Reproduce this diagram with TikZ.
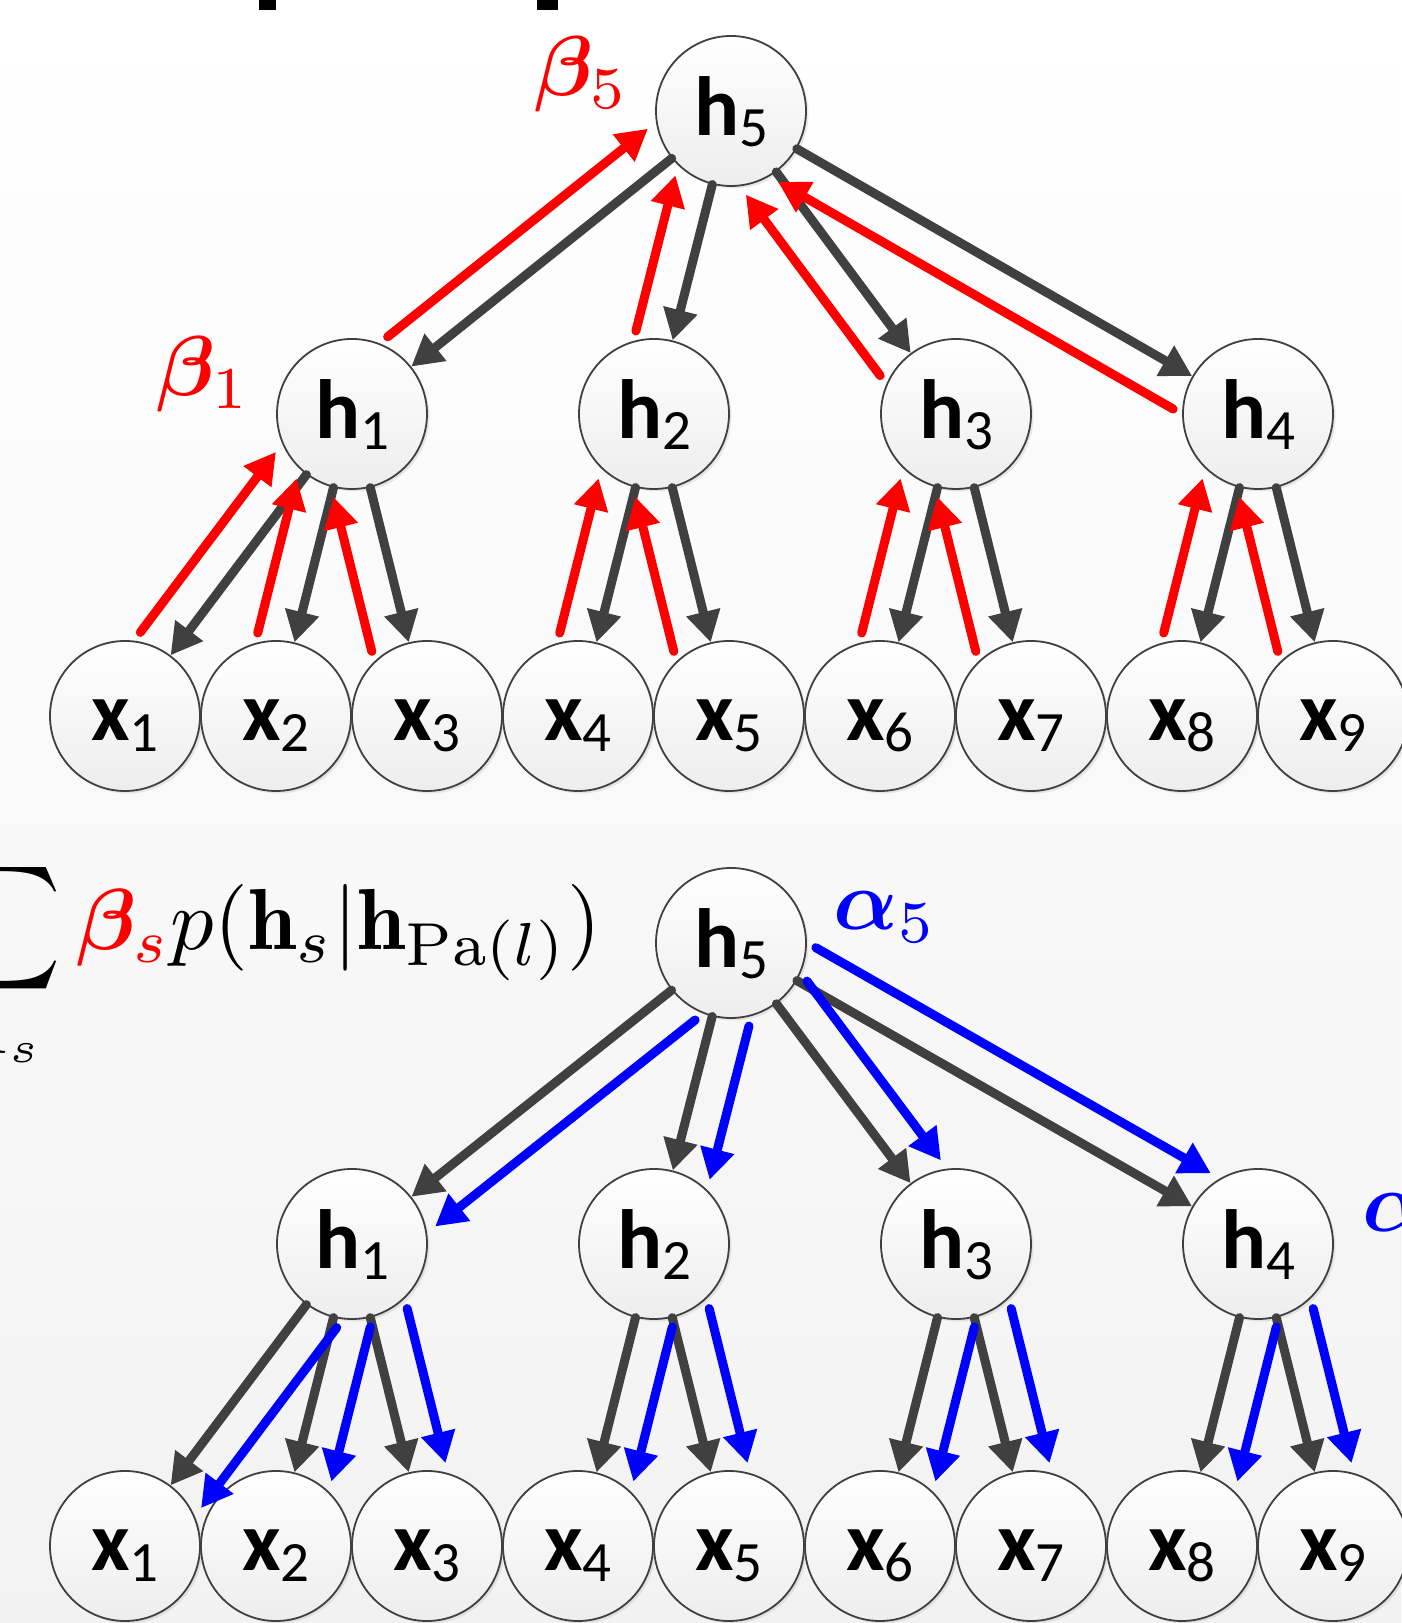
\documentclass[tikz,border=0pt]{standalone}
\usepackage{amsmath,bm}
\usepackage{fontspec}
\newfontfamily\nodefont[Numbers=Lining]{Carlito}
\usetikzlibrary{arrows.meta,calc,shadows}

\newcommand\vlabel[2]{{\bfseries #1}{\fontsize{57}{57}\selectfont\raisebox{-11pt}{#2}}}
\newcommand\offarrow[3]{\draw[#1] ($(#2)!76pt!(#3)!38pt!90:(#3)$) -- ($(#3)!76pt!(#2)!38pt!-90:(#2)$);}

\tikzset{
    vertex/.style={circle, minimum size=150pt, inner sep=0pt, draw=black!75, line width=1.8pt,
        top color=white, bottom color=black!7,
        drop shadow={shadow xshift=2.5pt, shadow yshift=-2.5pt, opacity=.35, fill=black!25},
        font=\nodefont\fontsize{84}{84}\selectfont, text height=60pt, text depth=10pt},
    link/.style={draw=black!75, line width=9pt, line cap=round, -{Triangle[length=31pt,width=33pt]}},
    betaedge/.style={link, draw=red},
    alphaedge/.style={link, draw=blue},
    coef/.style={inner sep=0pt, scale=8.5},
}

\begin{document}
\begin{tikzpicture}[x=1pt,y=1pt]
    \shade[top color=white, bottom color=black!5] (0,0) rectangle (1401,1623);
    \useasboundingbox (0,0) rectangle (1401,1623);
    \fill (259,1613) rectangle (276,1623);
    \fill (537,1613) rectangle (558,1623);

    \foreach \t/\yx/\yh/\yr in {t/907/1209/1512, b/77/379/680} {
        \foreach \i in {1,...,9}
            \node[vertex] (\t x\i) at ({125+151*(\i-1)},\yx) {\vlabel{x}{\i}};
        \foreach \j in {1,...,4}
            \node[vertex] (\t h\j) at ({352+302*(\j-1)},\yh) {\vlabel{h}{\j}};
        \node[vertex] (\t h5) at (731,\yr) {\vlabel{h}{5}};
    }

    \foreach \p/\c in {h5/h1,h5/h2,h5/h3,h5/h4,h1/x1,h1/x2,h1/x3,h2/x4,h2/x5,h3/x6,h3/x7,h4/x8,h4/x9} {
        \draw[link] (t\p) -- (t\c);
        \draw[link] (b\p) -- (b\c);
    }
    \foreach \p/\c in {h5/h1,h5/h2,h5/h3,h5/h4,h1/x1,h1/x2,h1/x3,h2/x4,h2/x5,h3/x6,h3/x7,h4/x8,h4/x9} {
        \offarrow{betaedge}{t\c}{t\p}
        \offarrow{alphaedge}{b\p}{b\c}
    }

    \node[coef, text=red, anchor=base west] (beta5) at (533,1527) {${\bm\beta}_5$};
    \node[coef, text=red, anchor=base west] (beta1) at (155,1227) {${\bm\beta}_1$};
    \node[coef, text=blue, anchor=base west] (alpha5) at (832,693) {${\bm\alpha}_5$};
    \node[coef, text=blue, anchor=base west] (alpha4) at (1361,391) {${\bm\alpha}_4$};
    \node[coef, scale=1.02, anchor=base east] (lik) at (603,673)
        {$\displaystyle\sum_{A_s}\textcolor{red}{{\bm\beta}_s}p(\mathbf{h}_s|\mathbf{h}_{\mathrm{Pa}(l)})$};
\end{tikzpicture}
\end{document}
